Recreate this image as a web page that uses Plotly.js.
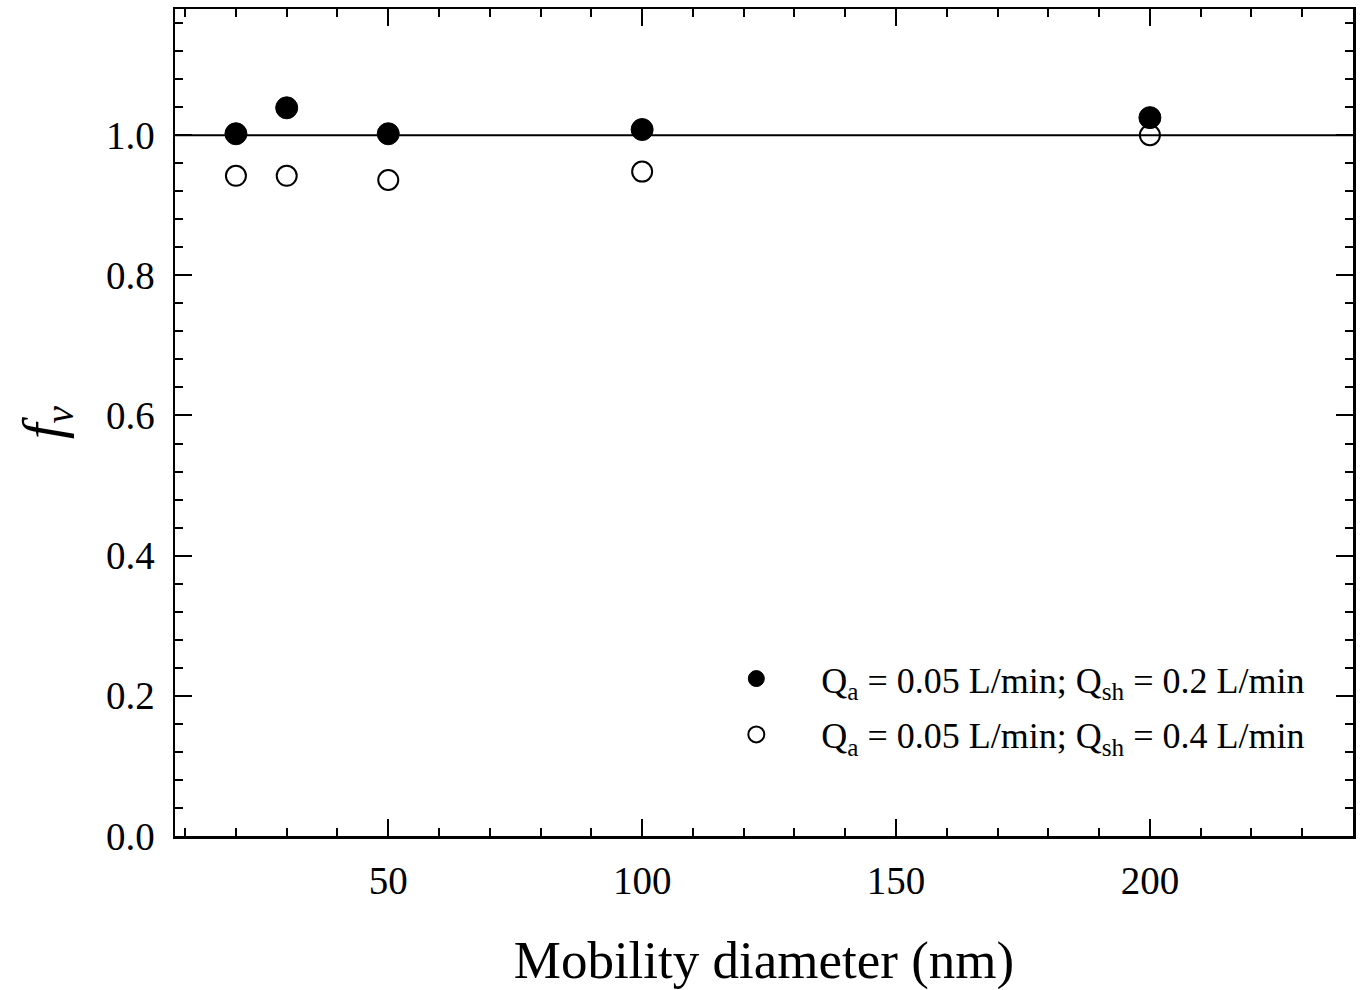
<!DOCTYPE html>
<html>
<head>
<meta charset="utf-8">
<script src="https://cdn.plot.ly/plotly-3.0.1.min.js"></script>
<style>html,body{margin:0;padding:0;background:#fff;}#chart{width:1361px;height:990px;}</style>
</head>
<body>
<div id="chart"></div>
<script>
// Data
const diameters = [20, 30, 50, 100, 200];
const fvLowSheath = [1.002, 1.039, 1.002, 1.008, 1.025];   // Qsh = 0.2 L/min (filled)
const fvHighSheath = [0.942, 0.942, 0.936, 0.948, 1.000];  // Qsh = 0.4 L/min (open)
const seriesNames = [
  "\u00a0\u00a0\u00a0\u00a0\u00a0Q<sub>a</sub> = 0.05 L/min; Q<sub>sh</sub> = 0.2 L/min",
  "\u00a0\u00a0\u00a0\u00a0\u00a0Q<sub>a</sub> = 0.05 L/min; Q<sub>sh</sub> = 0.4 L/min"
];
const referenceLevel = 1.0;
const xRange = [8, 240];
const yRange = [0, 1.18];

const font = "Liberation Serif, Times New Roman, serif";

const traces = [
  {
    x: diameters, y: fvLowSheath, mode: "markers", type: "scatter",
    name: seriesNames[0], legendgroup: "a",
    marker: {symbol: "circle", size: 22, color: "#000", line: {color: "#000", width: 1}}
  },
  {
    x: diameters, y: fvHighSheath, mode: "markers", type: "scatter",
    name: seriesNames[1], legendgroup: "b",
    marker: {symbol: "circle-open", size: 20, color: "#000", line: {color: "#000", width: 2}}
  }
];

const axisCommon = {
  showline: true, linecolor: "#000", linewidth: 2.5, mirror: "allticks",
  ticks: "inside", tickcolor: "#000", tickwidth: 2, ticklen: 17,
  showgrid: false, zeroline: false,
  tickfont: {family: font, size: 39, color: "#000"}
};

const layout = {
  width: 1361, height: 990,
  margin: {l: 175, r: 8, t: 9, b: 154},
  paper_bgcolor: "#fff", plot_bgcolor: "#fff",
  font: {family: font, color: "#000"},
  showlegend: true,
  legend: {
    x: 0.4765, y: 0.2265, xanchor: "left", yanchor: "top",
    font: {family: font, size: 36, color: "#000"},
    bgcolor: "rgba(0,0,0,0)", borderwidth: 0, tracegroupgap: 6, traceorder: "grouped", itemsizing: "trace"
  },
  xaxis: Object.assign({}, axisCommon, {
    range: xRange, tickmode: "linear", tick0: 0, dtick: 50, ticklabelstandoff: 9,
    minor: {tickmode: "linear", tick0: 0, dtick: 10, ticks: "inside", ticklen: 8, tickwidth: 2, tickcolor: "#000", showgrid: false},
    title: {text: "Mobility diameter (nm)", font: {family: font, size: 53, color: "#000"}, standoff: 44}
  }),
  yaxis: Object.assign({}, axisCommon, {
    range: yRange, tickmode: "linear", tick0: 0, dtick: 0.2, tickformat: ".1f", ticklabelstandoff: 10,
    minor: {tickmode: "linear", tick0: 0, dtick: 0.04, ticks: "inside", ticklen: 8, tickwidth: 2, tickcolor: "#000", showgrid: false},
    title: {text: "<i>f<sub>v</sub></i>", font: {family: font, size: 56, color: "#000"}, standoff: 26}
  }),
  shapes: [{
    type: "line", xref: "paper", x0: 0, x1: 1, yref: "y", y0: referenceLevel, y1: referenceLevel,
    line: {color: "#000", width: 2}, layer: "below"
  }]
};

Plotly.newPlot("chart", traces, layout, {staticPlot: true, displayModeBar: false});
</script>
</body>
</html>
